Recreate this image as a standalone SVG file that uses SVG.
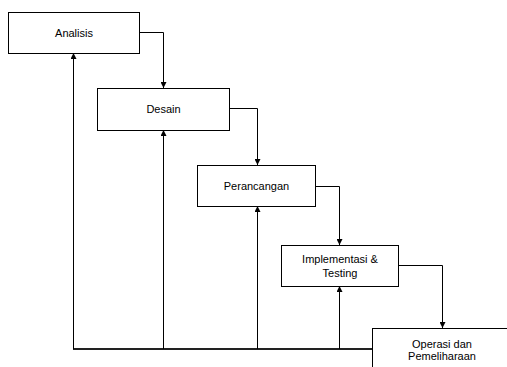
<svg xmlns="http://www.w3.org/2000/svg" width="507" height="367" viewBox="0 0 507 367">
  <style>
    .box { fill: #fff; stroke: #000; stroke-width: 1; }
    .lbl { font-family: "Liberation Sans", Arial, sans-serif; font-size: 11px; fill: #000; text-anchor: middle; }
    .wire { fill: none; stroke: #000; stroke-width: 1; }
    .base { fill: none; stroke: #222; stroke-width: 2; }
  </style>
  <defs>
    <marker id="head" viewBox="0 0 6 6" refX="6" refY="3" markerWidth="6" markerHeight="6" markerUnits="userSpaceOnUse" orient="auto">
      <path d="M0,0 L6,3 L0,6 z" fill="#000"/>
    </marker>
  </defs>

  <rect width="507" height="367" fill="#fff"/>

  <!-- connectors -->
  <g id="connectors">
    <path class="wire" d="M139.5,32.5 H163.5 V88" marker-end="url(#head)"/>
    <path class="wire" d="M229.5,108.5 H257.5 V165" marker-end="url(#head)"/>
    <path class="wire" d="M315.5,186.5 H339.5 V245" marker-end="url(#head)"/>
    <path class="wire" d="M398.5,265.5 H442.5 V328" marker-end="url(#head)"/>
    <path class="base" d="M73,349 H372"/>
    <path class="wire" stroke="#666" d="M73.5,349 V53" marker-end="url(#head)"/>
    <path class="wire" d="M163.5,349 V130" marker-end="url(#head)"/>
    <path class="wire" d="M257.5,349 V206" marker-end="url(#head)"/>
    <path class="wire" d="M339.5,349 V286" marker-end="url(#head)"/>
  </g>

  <g id="analisis">
    <rect class="box" x="8.5" y="12.5" width="131" height="41"/>
    <text class="lbl" x="74" y="36.5">Analisis</text>
  </g>
  <g id="desain">
    <rect class="box" x="97.5" y="88.5" width="132" height="42"/>
    <text class="lbl" x="163.5" y="113">Desain</text>
  </g>
  <g id="perancangan">
    <rect class="box" x="197.5" y="165.5" width="118" height="41"/>
    <text class="lbl" x="256.5" y="190">Perancangan</text>
  </g>
  <g id="implementasi">
    <rect class="box" x="281.5" y="245.5" width="117" height="41"/>
    <text class="lbl" x="340" y="263">Implementasi &amp;</text>
    <text class="lbl" x="340" y="277">Testing</text>
  </g>
  <g id="operasi">
    <rect class="box" x="372.5" y="328.5" width="140" height="45"/>
    <text class="lbl" x="442" y="348">Operasi dan</text>
    <text class="lbl" x="442" y="360">Pemeliharaan</text>
  </g>
</svg>
